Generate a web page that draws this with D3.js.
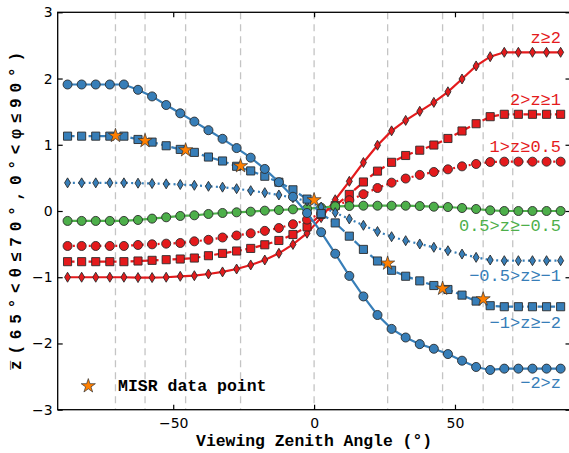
<!DOCTYPE html>
<html>
<head>
<meta charset="utf-8">
<title>mean z vs viewing zenith angle</title>
<script src="https://cdn.jsdelivr.net/npm/d3@7"></script>
<style>
body { margin: 0; background: #fff; }
.tick text { font-family: "DejaVu Sans", sans-serif; font-size: 14px; }
.mono { font-family: "Liberation Mono", monospace; }
</style>
</head>
<body>
<script>
// viewing zenith angles of the model points
var angles = d3.range(36).map(function(i) { return -87.5 + 5 * i; });

// series, top label first
var names = ["z\u22652", "2>z\u22651", "1>z\u22650.5", "0.5>z\u2265\u22120.5", "\u22120.5>z\u2265\u22121", "\u22121>z\u2265\u22122", "\u22122>z"];

var zGe2 = [-1.0, -1.0, -1.0, -1.0, -1.0, -1.005, -1.005, -1.0, -0.986, -0.977, -0.951, -0.92, -0.876, -0.815, -0.74, -0.639, -0.505, -0.335,
            -0.1, 0.17, 0.448, 0.732, 0.993, 1.21, 1.368, 1.505, 1.64, 1.80, 1.993, 2.19, 2.33, 2.396, 2.396, 2.396, 2.396, 2.396];
var z2to1 = [-0.765, -0.765, -0.765, -0.765, -0.765, -0.755, -0.745, -0.735, -0.725, -0.71, -0.675, -0.64, -0.604, -0.565, -0.51, -0.445, -0.355, -0.24,
             -0.05, 0.08, 0.25, 0.438, 0.602, 0.735, 0.838, 0.918, 0.996, 1.095, 1.208, 1.318, 1.424, 1.46, 1.46, 1.46, 1.46, 1.46];
var z1to05 = [-0.528, -0.528, -0.528, -0.528, -0.528, -0.513, -0.503, -0.493, -0.483, -0.458, -0.435, -0.40, -0.37, -0.337, -0.3, -0.257, -0.2, -0.13,
              -0.04, 0.07, 0.163, 0.254, 0.347, 0.428, 0.49, 0.545, 0.589, 0.629, 0.674, 0.71, 0.74, 0.745, 0.745, 0.745, 0.745, 0.745];
var zMid = [-0.15, -0.15, -0.15, -0.15, -0.15, -0.135, -0.115, -0.095, -0.075, -0.065, -0.045, -0.03, -0.02, -0.01, 0.005, 0.015, 0.025, 0.035,
            0.05, 0.07, 0.075, 0.08, 0.08, 0.08, 0.08, 0.075, 0.065, 0.06, 0.045, 0.03, 0.01, 0.0, 0.0, 0.0, 0.0, 0.0];
var zm05tom1 = [0.425, 0.425, 0.425, 0.425, 0.425, 0.42, 0.415, 0.41, 0.40, 0.388, 0.373, 0.36, 0.337, 0.307, 0.277, 0.242, 0.20, 0.15,
                0.06, -0.025, -0.12, -0.216, -0.31, -0.388, -0.448, -0.498, -0.548, -0.60, -0.65, -0.70, -0.74, -0.75, -0.75, -0.75, -0.75, -0.75];
var zm1tom2 = [1.13, 1.13, 1.13, 1.13, 1.13, 1.08, 1.04, 0.985, 0.93, 0.885, 0.815, 0.755, 0.675, 0.605, 0.525, 0.435, 0.32, 0.18,
               -0.04, -0.18, -0.38, -0.58, -0.755, -0.895, -0.985, -1.055, -1.125, -1.185, -1.27, -1.36, -1.43, -1.445, -1.445, -1.445, -1.445, -1.445];
var zLtm2 = [1.91, 1.91, 1.91, 1.91, 1.91, 1.83, 1.73, 1.60, 1.475, 1.35, 1.22, 1.09, 0.95, 0.805, 0.635, 0.435, 0.215, -0.03,
             -0.32, -0.645, -0.98, -1.29, -1.57, -1.78, -1.91, -2.01, -2.08, -2.16, -2.26, -2.355, -2.40, -2.38, -2.38, -2.38, -2.38, -2.38];

// MISR camera angles (dashed lines) and the measured points
var cameraAngles = [-70.5, -60.0, -45.6, -26.1, 0, 26.1, 45.6, 60.0, 70.5];
var misrAngles = [-70.5, -60.0, -45.6, -26.1, 0, 26.1, 45.6, 60.0];
var misrValues = [1.137, 1.06, 0.92, 0.68, 0.166, -0.79, -1.17, -1.33];

var xTicks = [-50, 0, 50];
var yTicks = [-3, -2, -1, 0, 1, 2, 3];

var red = "#e41a1c", green = "#4daf4a", blue = "#377eb8", orange = "#ff7f00";

var series = [
  { name: names[0], values: zGe2, color: red, dash: null, marker: "diamond", labelAt: 2.63 },
  { name: names[1], values: z2to1, color: red, dash: "7,3.5", marker: "square", labelAt: 1.69 },
  { name: names[2], values: z1to05, color: red, dash: "2,3.3", marker: "circle", labelAt: 0.98 },
  { name: names[3], values: zMid, color: green, dash: null, marker: "circle", labelAt: -0.21 },
  { name: names[4], values: zm05tom1, color: blue, dash: "2,3.3", marker: "diamond", labelAt: -0.97 },
  { name: names[5], values: zm1tom2, color: blue, dash: "7,3.5", marker: "square", labelAt: -1.67 },
  { name: names[6], values: zLtm2, color: blue, dash: null, marker: "circle", labelAt: -2.59 }
];

var W = 569, H = 453;
var plotL = 57.7, plotR = 570.5, plotT = 12.3, plotB = 409.7;

var x = d3.scaleLinear().domain([-91, 91]).range([plotL, plotR]);
var y = d3.scaleLinear().domain([-3, 3]).range([plotB, plotT]);

var svg = d3.select("body").append("svg")
  .attr("width", W)
  .attr("height", H);

// dashed lines at the MISR angles
svg.append("g")
  .selectAll("line")
  .data(cameraAngles)
  .enter().append("line")
  .attr("x1", function(d) { return x(d); })
  .attr("x2", function(d) { return x(d); })
  .attr("y1", plotT)
  .attr("y2", plotB)
  .attr("stroke", "#c4c4c4")
  .attr("stroke-width", 1.3)
  .attr("stroke-dasharray", "7,5");

var line = d3.line()
  .x(function(d, i) { return x(angles[i]); })
  .y(function(d) { return y(d); });

var symbols = {
  circle: d3.symbol().type(d3.symbolCircle).size(64),
  square: d3.symbol().type(d3.symbolSquare).size(66)
};

var groups = svg.append("g")
  .selectAll("g")
  .data(series)
  .enter().append("g");

groups.append("path")
  .attr("d", function(s) { return line(s.values); })
  .attr("fill", "none")
  .attr("stroke", function(s) { return s.color; })
  .attr("stroke-width", 2.2)
  .attr("stroke-dasharray", function(s) { return s.dash; });

groups.each(function(s) {
  var g = d3.select(this);
  var shape = s.marker === "diamond" ? "M0,-5L3,0L0,5L-3,0Z" : symbols[s.marker]();
  g.selectAll(".pt")
    .data(s.values)
    .enter().append("path")
    .attr("d", shape)
    .attr("transform", function(d, i) { return "translate(" + x(angles[i]) + "," + y(d) + ")"; })
    .attr("fill", s.color)
    .attr("stroke", "#2b2b2b")
    .attr("stroke-width", 0.9);
});

// series labels on the right
groups.append("text")
  .attr("class", "mono")
  .attr("x", 561)
  .attr("y", function(s) { return y(s.labelAt); })
  .attr("dy", "0.35em")
  .attr("text-anchor", "end")
  .attr("fill", function(s) { return s.color; })
  .style("font-size", "17px")
  .text(function(s) { return s.name; });

// MISR stars
var star = d3.symbol().type(d3.symbolStar).size(62);
svg.append("g")
  .selectAll("path")
  .data(misrValues)
  .enter().append("path")
  .attr("d", star)
  .attr("transform", function(d, i) { return "translate(" + x(misrAngles[i]) + "," + y(d) + ")"; })
  .attr("fill", orange)
  .attr("stroke", "#333")
  .attr("stroke-width", 0.7);

// legend
svg.append("path")
  .attr("d", star)
  .attr("transform", "translate(88.3,386)")
  .attr("fill", orange)
  .attr("stroke", "#333")
  .attr("stroke-width", 0.7);
svg.append("text")
  .attr("class", "mono")
  .attr("x", 118)
  .attr("y", 391)
  .style("font-size", "16.5px")
  .style("font-weight", "bold")
  .text("MISR data point");

// frame
svg.append("rect")
  .attr("x", plotL).attr("y", plotT)
  .attr("width", plotR - plotL).attr("height", plotB - plotT)
  .attr("fill", "none")
  .attr("stroke", "#000")
  .attr("stroke-width", 1.3);

// axes, ticks inside
svg.append("g")
  .attr("transform", "translate(0," + plotB + ")")
  .call(d3.axisBottom(x).tickValues(xTicks).tickSize(-5).tickPadding(8).tickFormat(d3.format("d")))
  .call(function(g) { g.select(".domain").remove(); });
svg.append("g")
  .attr("transform", "translate(0," + plotT + ")")
  .call(d3.axisTop(x).tickValues(xTicks).tickSize(-5).tickFormat(""))
  .call(function(g) { g.select(".domain").remove(); });
svg.append("g")
  .attr("transform", "translate(" + plotL + ",0)")
  .call(d3.axisLeft(y).tickValues(yTicks).tickSize(-5).tickPadding(5).tickFormat(d3.format("d")))
  .call(function(g) { g.select(".domain").remove(); });
svg.append("g")
  .attr("transform", "translate(" + plotR + ",0)")
  .call(d3.axisRight(y).tickValues(yTicks).tickSize(-5).tickFormat(""))
  .call(function(g) { g.select(".domain").remove(); });

svg.selectAll(".tick line").attr("stroke", "#000").attr("stroke-width", 1.2);
svg.selectAll(".tick text").attr("fill", "#000");

// axis titles
svg.append("text")
  .attr("class", "mono")
  .attr("x", x(0))
  .attr("y", 446)
  .attr("text-anchor", "middle")
  .style("font-size", "16.4px")
  .style("font-weight", "bold")
  .text("Viewing Zenith Angle (\u00b0)");

svg.append("text")
  .attr("class", "mono")
  .attr("transform", "translate(21," + y(0) + ") rotate(-90)")
  .attr("text-anchor", "middle")
  .attr("textLength", 318)
  .attr("lengthAdjust", "spacing")
  .style("font-size", "16px")
  .style("font-weight", "bold")
  .text("z\u0305(65\u00b0<\u03b8\u226470\u00b0,0\u00b0<\u03c6\u226490\u00b0)");
</script>
</body>
</html>
